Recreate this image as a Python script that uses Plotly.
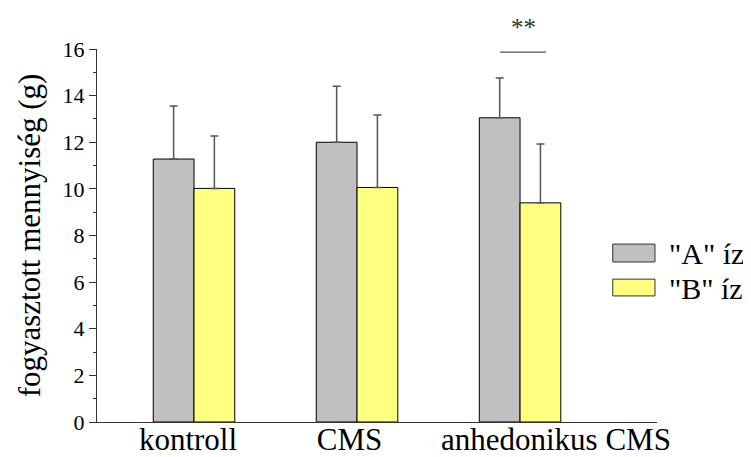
import plotly.graph_objects as go

categories = ["kontroll", "CMS", "anhedonikus CMS"]
series_names = ['"A" íz', '"B" íz']
series_colors = ["#c0c0c0", "#ffff80"]
a_values = [11.28, 12.0, 13.05]
a_errors = [2.28, 2.4, 1.71]
b_values = [10.02, 10.06, 9.4]
b_errors = [2.25, 3.11, 2.53]
y_ticks = [0, 2, 4, 6, 8, 10, 12, 14, 16]
significance = {"group": 3, "label": "**", "y": 15.87, "half_left": 0.123, "half_right": 0.16}

x_pos = [1, 2, 3]
label_pos = [0.963, 1.954, 3.22]

font_family = "Liberation Serif"

fig = go.Figure()
for name, color, vals, errs in zip(series_names, series_colors, [a_values, b_values], [a_errors, b_errors]):
    fig.add_trace(go.Bar(
        x=x_pos, y=vals, name=name, showlegend=False,
        marker=dict(color=color, line=dict(color="black", width=1)),
        error_y=dict(type="data", symmetric=False, array=errs, arrayminus=[0] * len(errs),
                     color="#555555", thickness=1.5, width=4),
    ))

g = significance["group"]
fig.add_shape(type="line", xref="x", yref="y",
              x0=g - significance["half_left"], x1=g + significance["half_right"],
              y0=significance["y"], y1=significance["y"],
              line=dict(color="#555555", width=1.2))
fig.add_annotation(x=g + 0.02, y=1.058, xref="x", yref="paper", text=significance["label"],
                   showarrow=False, yanchor="middle",
                   font=dict(family=font_family, size=25, color="#333333"))

# custom legend (large rectangular swatches)
legend_rows = [(0.477, 0.429, 0.453), (0.383, 0.338, 0.359)]
for (top, bot, mid), name, color in zip(legend_rows, series_names, series_colors):
    fig.add_shape(type="rect", xref="paper", yref="paper", x0=0.921, x1=0.9964, y0=bot, y1=top,
                  fillcolor=color, line=dict(color="#333333", width=1))
    fig.add_annotation(x=1.018, y=mid, xref="paper", yref="paper", text=name, showarrow=False,
                       xanchor="left", yanchor="middle",
                       font=dict(family=font_family, size=30, color="black"))

fig.update_layout(
    template="none",
    width=751, height=457,
    margin=dict(l=89, r=102, t=41, b=43),
    plot_bgcolor="white", paper_bgcolor="white",
    barmode="group", bargap=0.5, bargroupgap=0,
    font=dict(family=font_family, color="black"),
    showlegend=False,
    xaxis=dict(range=[0.405, 3.84], tickmode="array", tickvals=label_pos, ticktext=categories,
               automargin=False, ticklabelstandoff=-10,
               showline=True, linecolor="#333333", linewidth=1.2, ticks="", showgrid=False,
               zeroline=False, tickfont=dict(family=font_family, size=31, color="black")),
    yaxis=dict(range=[0, 16], tickmode="array", tickvals=y_ticks, automargin=False,
               showline=True, linecolor="#333333", linewidth=1.2, ticks="outside", ticklen=7,
               tickcolor="#333333", showgrid=False, zeroline=False,
               minor=dict(tickvals=[1, 3, 5, 7, 9, 11, 13, 15], ticks="outside", ticklen=3, tickcolor="#333333"),
               tickfont=dict(family=font_family, size=22, color="black"),
               title=dict(text="fogyasztott mennyiség (g)", font=dict(family=font_family, size=31, color="black"), standoff=12)),
)

fig.write_html("out.html")
